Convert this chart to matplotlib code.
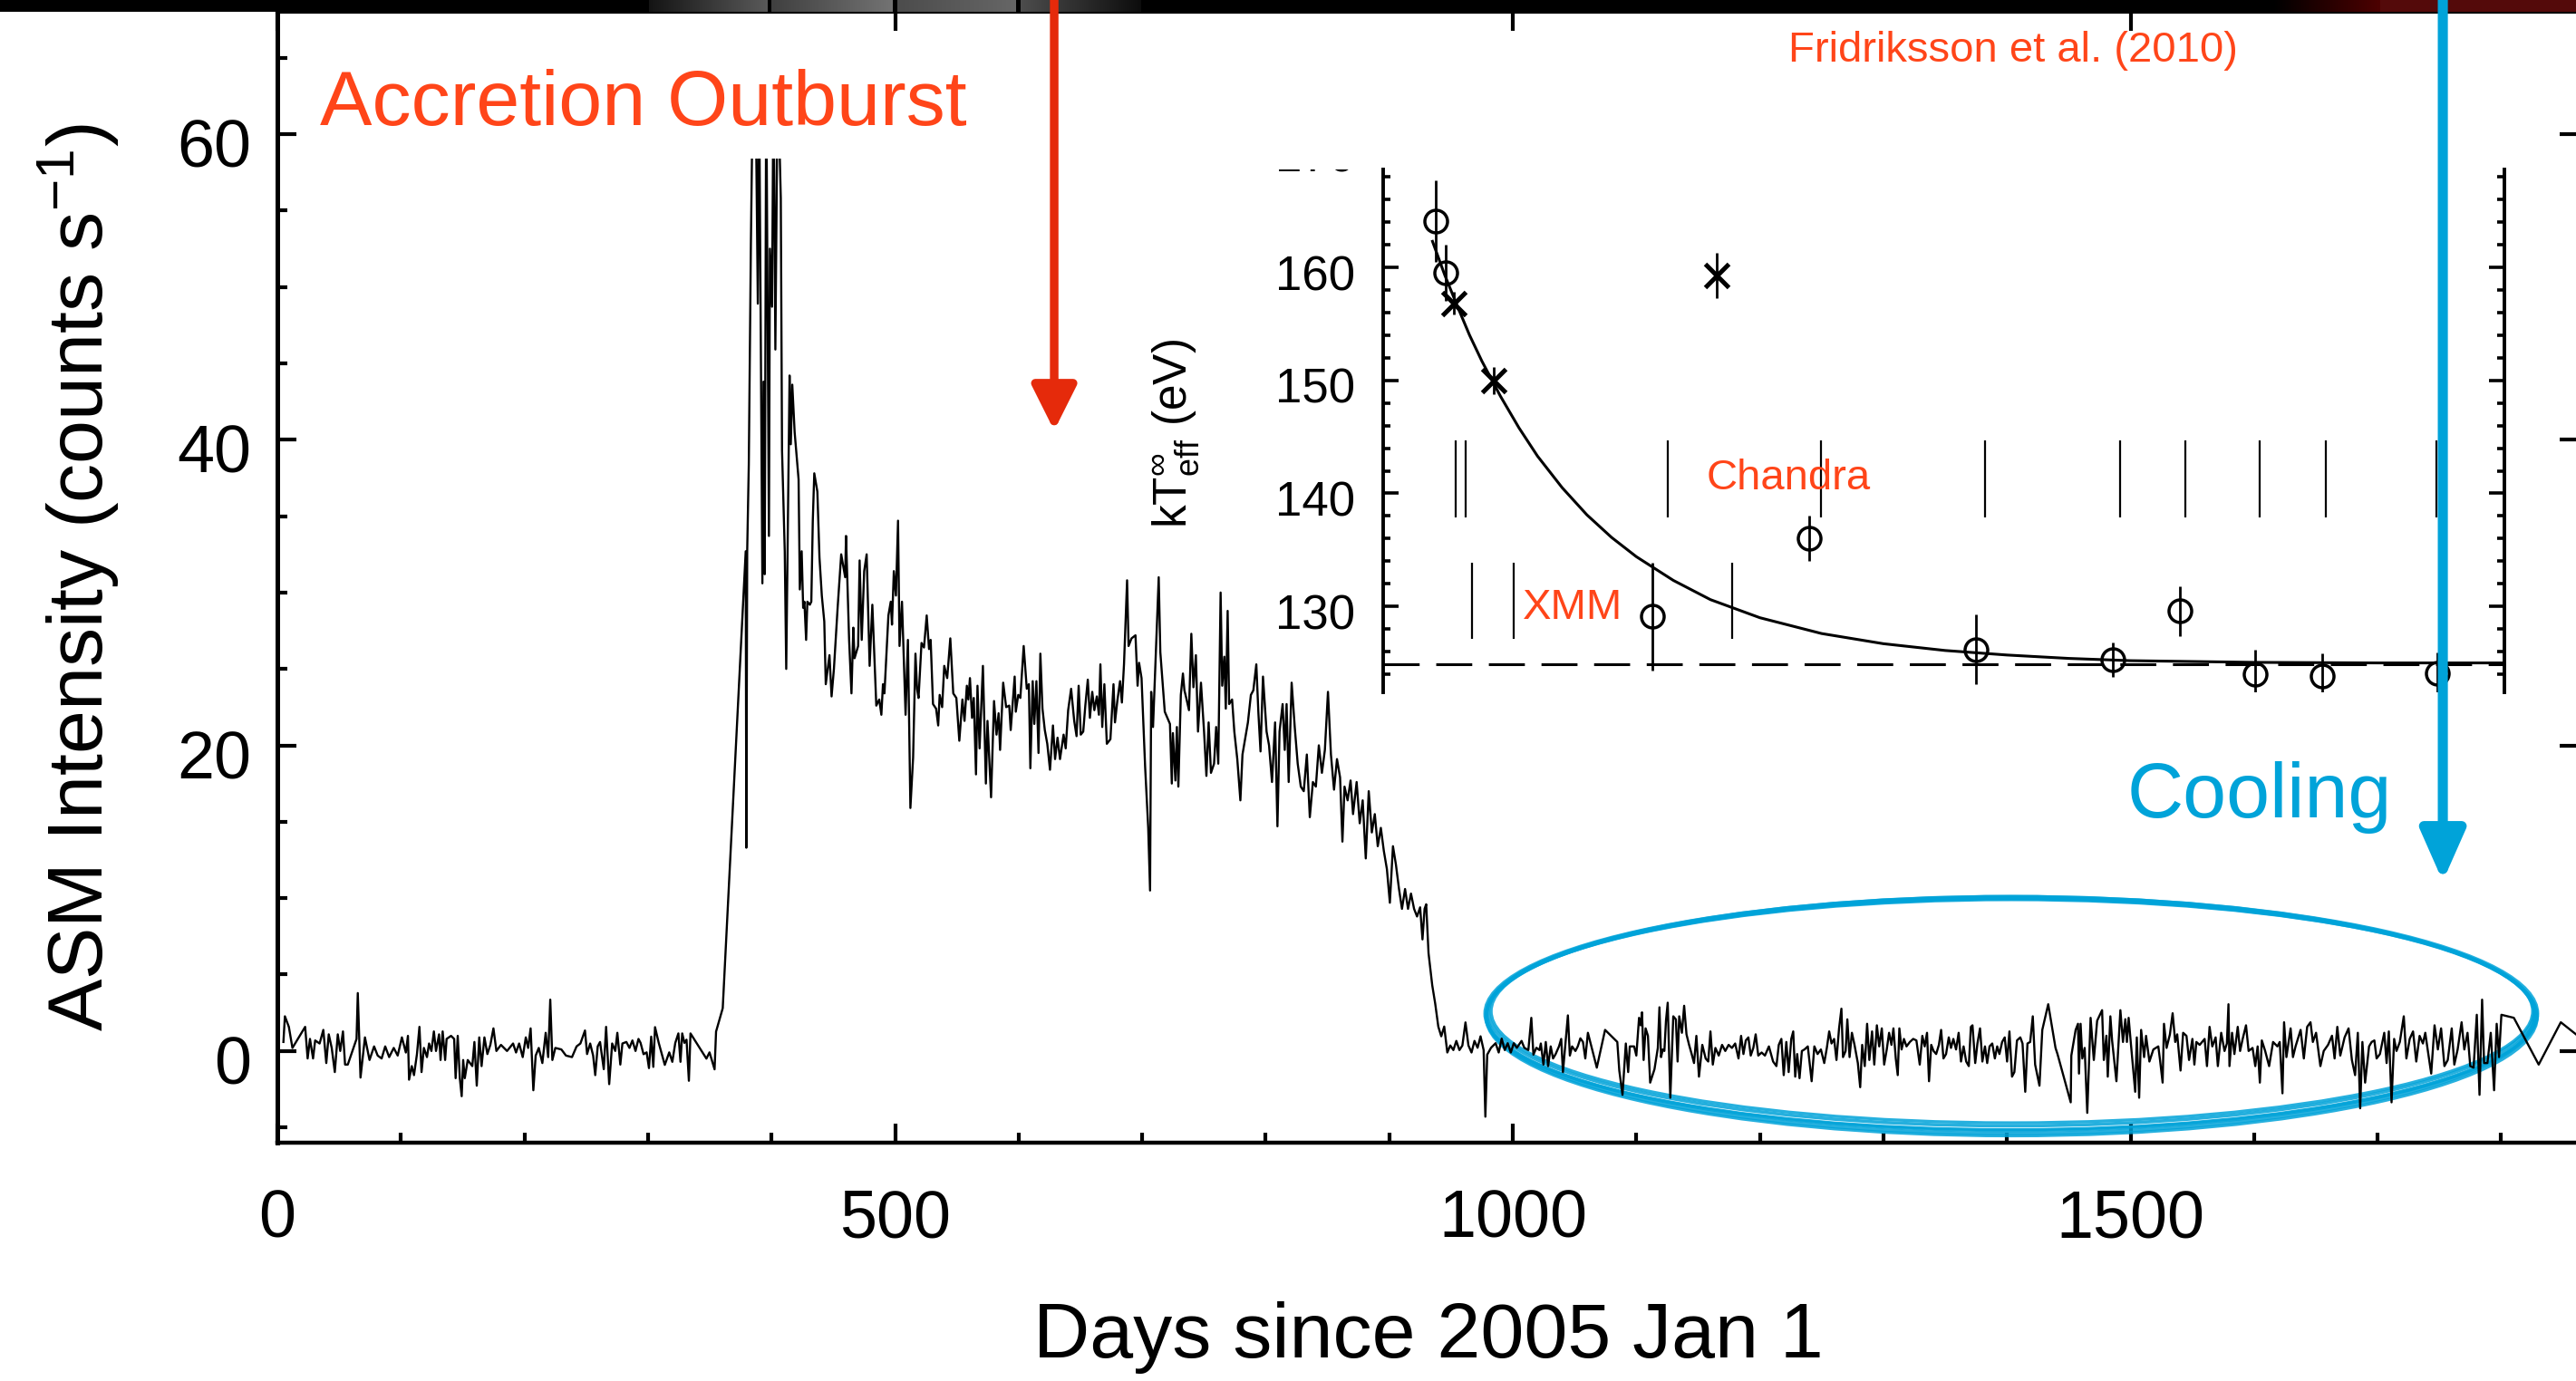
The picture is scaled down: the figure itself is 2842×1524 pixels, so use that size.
#%% Load modules
import numpy as np
import matplotlib
matplotlib.use('Agg')
import matplotlib.pyplot as plt
from matplotlib.patches import Ellipse, FancyArrowPatch
from matplotlib.ticker import MultipleLocator
from matplotlib.transforms import (Bbox, TransformedBbox, ScaledTranslation,
                                   blended_transform_factory)

plt.rcParams['font.family'] = ['Liberation Sans', 'DejaVu Sans']
plt.rcParams['mathtext.fontset'] = 'custom'
plt.rcParams['mathtext.rm'] = 'Liberation Sans'
plt.rcParams['mathtext.it'] = 'Liberation Sans:italic'

#%% RXTE/ASM light curve (days since 2005 Jan 1, counts/s)
# values of 64 mark the off-scale points of the outburst peak (clipped in the plot)
quiet_day = [
    4.9, 6.1, 9.3, 12.2, 22.5, 24.5, 26.4, 28.9, 30.6, 34.2,
    37.2, 39.6, 41.6, 44.0, 46.5, 48.9, 50.9, 53.1, 54.8, 57.0,
    64.1, 65.1, 67.3, 70.9, 74.6, 78.3, 81.2, 84.4, 87.3, 90.5,
    94.2, 97.4, 100.8, 104.0, 105.7, 106.6, 108.8, 110.6, 113.0, 115.0,
    116.7, 118.6, 121.1, 122.8, 124.7, 126.7, 128.4, 130.9, 132.1, 133.8,
    135.8, 137.0, 140.6, 143.1, 144.3, 146.0, 147.7, 149.2, 150.4, 151.7,
    154.1, 157.8, 159.5, 161.4, 163.4, 165.3, 167.6, 170.0, 172.4, 174.9,
    177.3, 181.0, 185.9, 190.8, 193.2, 195.7, 198.6, 201.1, 203.0, 205.0,
    207.2, 209.1, 211.6, 214.5, 217.2, 219.2, 220.9, 222.6, 225.0, 229.9,
    233.6, 238.5, 242.2, 245.3, 249.0, 250.7, 253.2, 255.6, 257.3, 259.3,
    261.2, 264.2, 266.1, 268.6, 271.0, 273.5, 275.2, 277.6, 279.3, 282.5,
    285.0, 287.4, 289.9, 292.3, 294.0, 296.4, 298.9, 300.8, 302.6, 304.3,
    305.7, 308.7, 313.6, 317.2, 319.7, 322.1, 324.6, 326.3, 327.7, 329.5,
    331.2, 333.1, 334.4, 347.3, 349.8, 353.9, 355.1, 360.5]
quiet_rate = [
    0.59, 2.27, 1.58, 0.20, 1.58, -0.49, 0.79, -0.49, 0.69, 0.49,
    1.38, -0.79, 1.09, 0.20, -1.38, 1.09, 0.0, 1.28, -0.89, -0.89,
    0.79, 3.79, -1.74, 0.89, -0.59, 0.30, -0.30, -0.49, 0.30, -0.40,
    0.20, -0.30, 0.89, -0.10, 0.99, -1.88, -0.99, -1.58, -0.20, 1.58,
    -1.38, 0.20, -0.40, 0.49, 0.0, 1.28, 0.0, 1.09, -0.59, 1.28,
    -0.59, 0.79, 0.99, 0.79, -1.78, 0.99, -1.78, -2.96, -0.59, -1.78,
    -0.59, -0.99, 0.59, -2.27, 0.89, -0.99, 0.89, -0.20, 0.40, 1.48,
    0.0, 0.40, 0.0, 0.49, -0.10, 0.49, -0.40, 0.89, 0.20, 1.48,
    -2.57, -0.30, 0.20, -0.79, 1.19, -0.40, 3.36, -0.59, 0.20, 0.10,
    -0.30, -0.40, 0.30, 0.49, 1.34, -0.20, 0.49, -0.30, -1.58, 0.30,
    0.59, -1.19, 1.58, -2.17, 0.49, 0.0, 1.19, -0.89, 0.49, 0.59,
    0.20, 0.69, 0.0, 0.79, 0.53, -0.21, -0.09, -1.12, 0.94, -1.04,
    1.56, 0.53, -0.91, -0.09, -0.71, 0.53, 1.15, -0.71, 1.15, 0.53,
    0.74, -1.95, 1.15, -0.50, -0.09, -1.20, 1.27, 2.80]

burst_day = [
    379.1, 379.6, 380.3, 381.6, 383.3, 385.0, 387.0, 388.9, 389.9, 392.6,
    393.5, 394.5, 395.7, 397.9, 398.7, 400.4, 401.6, 403.1, 405.0, 407.5,
    408.5, 410.7, 411.9, 414.6, 415.6, 416.8, 418.7, 421.9, 422.9, 424.4,
    425.6, 426.6, 428.0, 429.0, 431.0, 432.2, 433.4, 434.6, 437.1, 438.8,
    440.7, 442.7, 443.9, 446.9, 448.6, 450.5, 453.5, 456.4, 459.6, 460.3,
    462.8, 464.7, 466.2, 467.2, 470.1, 471.3, 473.0, 475.0, 477.0, 479.4,
    481.6, 484.8, 487.2, 488.9, 490.2, 491.4, 494.6, 496.5, 497.5, 499.0,
    500.7, 502.4, 503.6, 505.6, 508.5,
    510.4, 512.4, 514.6, 516.5, 517.8, 519.0, 521.4, 523.4, 525.6, 527.5,
    528.8, 530.7, 533.2, 534.9, 536.1, 538.1, 539.8, 542.2, 544.7, 547.1,
    549.6, 552.0, 554.5, 556.2, 558.1, 559.3, 560.6, 562.3, 563.7, 565.5,
    566.7, 568.4, 571.1, 573.5, 574.8, 577.7, 580.1, 582.1, 583.8, 585.0,
    587.5, 589.9, 592.4, 593.6, 596.8, 597.7, 599.7, 601.4, 604.1, 606.6,
    608.3, 609.5, 611.4, 612.7, 614.4, 616.1, 617.6, 619.3, 621.2, 623.2,
    625.4, 627.8, 629.5, 631.5, 633.5, 636.4, 638.1, 640.1, 642.5, 645.0,
    646.9, 648.6, 650.3, 652.3, 654.0, 656.0, 657.7, 659.6, 661.3, 663.3,
    665.0, 666.2, 667.7, 669.4, 671.4, 674.3, 676.8, 678.0, 679.9, 682.1,
    683.6, 685.3, 687.8, 689.0, 691.4, 694.6, 696.3, 697.5, 699.5, 702.4,
    704.9, 706.4, 707.3, 708.8, 713.4, 714.7, 718.3, 722.5, 724.0, 724.9,
    726.9, 728.1]
burst_rate = [
    32.7, 13.3, 32.7, 38.4, 52.9, 64, 64, 48.9, 64, 30.6,
    43.8, 31.2, 64, 33.7, 52.5, 48.7, 64, 45.9, 64, 55.8,
    39.3, 32.7, 25.0, 44.2, 39.7, 43.6, 40.5, 37.4, 30.2, 32.7,
    29.0, 29.4, 26.9, 29.4, 29.2, 29.4, 34.7, 37.8, 36.6, 32.3,
    29.8, 28.1, 24.0, 25.9, 23.2, 25.0, 29.0, 32.5, 31.0, 33.7,
    26.9, 23.4, 27.7, 25.7, 26.5, 32.1, 26.9, 31.4, 32.5, 25.2,
    29.2, 22.6, 23.0, 22.0, 24.0, 23.4, 28.5, 29.4, 27.9, 31.4,
    29.8, 34.7, 26.5, 29.4, 22.0,
    26.9, 15.9, 19.2, 26.0, 23.7, 23.1, 26.7, 26.4, 28.5, 26.3,
    26.9, 22.7, 22.4, 21.3, 23.3, 22.5, 25.2, 24.4, 27.0, 23.4,
    23.1, 20.3, 23.0, 21.6, 23.9, 23.0, 24.4, 21.8, 23.1, 18.1,
    23.9, 19.8, 25.2, 17.5, 21.6, 16.6, 22.9, 20.7, 22.1, 19.7,
    24.1, 22.5, 22.6, 21.0, 24.5, 22.2, 23.3, 23.1, 26.5, 23.7,
    24.0, 18.5, 24.2, 21.4, 24.2, 19.5, 26.0, 22.4, 21.0, 20.1,
    18.4, 21.3, 19.1, 20.5, 19.1, 20.7, 19.8, 22.3, 23.7, 21.6,
    20.6, 23.9, 20.7, 20.9, 22.6, 24.3, 21.8, 23.5, 22.3, 23.2,
    22.0, 25.3, 21.2, 24.0, 20.1, 20.4, 24.0, 21.5, 22.9, 24.2,
    22.8, 25.3, 30.8, 26.5, 27.0, 27.2, 23.9, 25.4, 24.4, 18.6,
    14.6, 10.5, 23.5, 21.2, 31.0, 26.1, 22.2, 21.4, 17.5, 20.8,
    17.7, 21.2]

decay_day = [
    729.3, 731.3, 733.0, 734.2, 735.4, 737.9, 739.8, 741.5, 743.5, 745.2,
    747.6, 750.1, 752.0, 753.8, 755.7, 758.2, 759.9, 761.6, 763.5, 764.8,
    766.5, 767.7, 769.2, 770.4, 772.8, 774.6, 777.0, 779.5, 781.2, 783.1,
    785.6, 788.0, 790.0, 792.4, 794.1, 795.8, 797.8, 800.7, 802.7, 805.1,
    807.6, 809.5, 811.2, 813.7, 815.4, 816.9, 818.6, 821.0, 823.5, 825.9,
    828.4, 830.8, 833.3, 835.7, 838.2, 840.6, 843.0, 845.5, 847.9, 850.4,
    852.8, 855.3, 857.7, 860.2, 862.1, 863.8, 866.3, 868.7, 870.7, 873.6,
    876.1, 878.5, 881.0, 883.4, 885.9, 888.3, 890.7, 893.2, 895.6, 898.1,
    900.5, 903.0, 905.4, 907.9, 910.3, 912.8, 915.2, 917.6, 920.1, 922.5,
    925.0, 926.9, 928.6, 929.9, 931.8, 934.8, 937.2, 939.7, 942.1, 944.5,
    947.0, 949.4, 951.9, 954.3, 956.8, 959.2, 961.7, 964.1, 966.6, 969.0,
    971.5, 973.9, 976.4, 977.8, 979.3, 982.4, 986.1, 988.6, 991.0, 993.5,
    995.9, 998.4, 1000.8, 1003.3, 1007.1, 1009.3, 1012.6, 1015.0, 1016.7, 1019.1,
    1021.6]
decay_rate = [
    17.3, 23.3, 24.7, 23.6, 23.2, 22.3, 27.3, 23.8, 25.9, 20.9,
    24.1, 20.9, 18.0, 21.5, 18.2, 18.8, 21.2, 18.8, 30.0, 23.9,
    25.8, 22.4, 28.8, 22.7, 23.0, 20.9, 19.1, 16.4, 19.4, 20.3,
    21.5, 23.3, 23.6, 25.3, 22.1, 19.6, 24.5, 20.9, 20.0, 17.6,
    21.5, 14.7, 20.9, 22.7, 19.7, 22.7, 17.6, 24.1, 21.2, 18.8,
    17.3, 17.0, 19.4, 15.3, 17.6, 17.3, 20.0, 18.2, 19.7, 23.5,
    19.4, 17.1, 19.1, 17.9, 13.7, 17.3, 16.4, 17.7, 15.5, 17.6,
    14.9, 16.4, 12.6, 17.0, 14.3, 15.5, 13.4, 14.6, 13.1, 11.9,
    9.7, 13.4, 12.2, 10.6, 9.3, 10.6, 9.3, 10.3, 9.3, 8.8,
    9.4, 7.3, 9.3, 9.6, 6.4, 4.3, 3.1, 1.6, 0.96, 1.6,
    -0.1, 0.36, 0.06, 0.66, 0.06, 0.36, 1.87, 0.36, -0.1, 0.66,
    0.21, 0.96, 0.06, -4.3, -0.24, 0.21, 0.51, -0.1, 0.81, 0.06,
    0.51, -0.1, 0.51, 0.21, 0.66, 0.21, 0.06, 2.17, -0.24, 0.21,
    0.06]

cool_day = [
    1022.7, 1024.8, 1026.7, 1028.6, 1030.7, 1032.6, 1034.7, 1037.4, 1039.2, 1040.6,
    1042.7, 1044.6, 1046.2, 1048.0, 1050.7, 1052.6, 1054.7, 1056.8, 1058.7, 1060.8,
    1062.7, 1068.0, 1074.7, 1084.6, 1086.2, 1088.8, 1091.5, 1093.4, 1094.7, 1098.2,
    1100.0, 1102.2, 1103.5, 1104.6, 1105.9, 1107.5, 1109.4, 1111.2, 1114.7, 1117.4,
    1118.7, 1120.0, 1121.4, 1122.7, 1124.0, 1125.4, 1127.5, 1129.9, 1132.0, 1133.4,
    1134.7, 1136.9, 1138.7, 1140.6, 1142.7, 1144.8, 1146.7, 1148.6, 1150.7, 1153.4,
    1156.1, 1158.2, 1160.0, 1161.9, 1164.0, 1166.7, 1169.4, 1172.0, 1174.7, 1177.4,
    1180.0, 1182.7, 1184.8, 1186.7, 1188.6, 1190.7, 1192.6, 1194.7, 1196.6, 1198.7,
    1201.4, 1204.1, 1207.3, 1210.7, 1213.4, 1215.3, 1217.4, 1219.3, 1221.4, 1223.3,
    1225.4, 1227.0, 1228.6, 1230.2, 1232.1, 1234.0, 1236.1, 1238.8, 1241.9, 1244.1,
    1246.7, 1249.4, 1252.1, 1254.2, 1256.1, 1258.0, 1260.1, 1262.0, 1264.1, 1266.0,
    1267.3, 1269.4, 1270.8, 1272.6, 1274.5, 1276.6, 1279.3, 1281.2, 1282.8, 1284.9,
    1286.8, 1288.6, 1290.8, 1292.6, 1294.7, 1296.6, 1298.7, 1300.6, 1302.7, 1304.6,
    1306.5, 1308.1, 1310.0, 1311.6, 1312.9, 1314.7, 1316.6, 1318.7, 1321.4, 1324.1,
    1326.7, 1329.4, 1331.5, 1333.4, 1335.3, 1336.9, 1338.7, 1340.6, 1342.7, 1344.9,
    1346.7, 1348.6, 1350.7, 1352.9, 1354.7, 1356.6, 1358.8, 1360.9, 1362.8, 1364.9,
    1367.0, 1369.1, 1370.8, 1372.1, 1374.3, 1376.1, 1378.2, 1380.1, 1382.2, 1384.0,
    1385.9, 1388.1, 1390.2, 1392.1, 1393.9, 1396.1, 1398.2, 1400.1, 1402.0, 1404.1,
    1406.0, 1408.1, 1410.8, 1412.6, 1414.8, 1416.6, 1418.8, 1420.9, 1422.8, 1426.3,
    1428.6, 1433.4, 1439.3,
    1440.9, 1451.6, 1452.1, 1455.6, 1457.5, 1458.3, 1459.6, 1461.0, 1462.9, 1465.0,
    1467.7, 1470.3, 1473.0, 1477.0, 1478.4, 1480.5, 1481.6, 1483.7, 1485.1, 1488.6,
    1491.8, 1493.9, 1495.8, 1497.1, 1498.5, 1500.3, 1503.8, 1505.1, 1507.0, 1508.6,
    1511.0, 1512.6, 1515.3, 1518.5, 1522.5, 1523.9, 1526.0, 1527.1, 1529.2, 1531.9,
    1534.1, 1536.2, 1537.8, 1540.5, 1542.6, 1545.3, 1547.4, 1550.1, 1551.7, 1553.3,
    1556.0, 1560.0, 1561.9, 1564.0, 1566.2, 1568.9, 1570.7, 1573.4, 1576.1, 1578.0,
    1579.3, 1580.1, 1582.2, 1584.1, 1586.8, 1588.7, 1590.8, 1593.5, 1595.6, 1598.8,
    1601.0, 1602.9, 1604.7, 1606.3, 1609.0, 1612.2, 1615.4, 1618.9, 1620.8, 1623.0,
    1624.3, 1626.2, 1629.6, 1631.5, 1633.6, 1637.7, 1640.3, 1643.0, 1645.7, 1647.6,
    1650.2, 1653.7, 1656.4, 1659.9, 1663.1, 1665.2, 1667.4, 1669.8, 1673.3, 1676.5,
    1679.2, 1681.8, 1684.0, 1685.9, 1687.7, 1689.9, 1693.1, 1695.2, 1697.4, 1699.2,
    1701.9, 1705.4, 1707.3, 1709.1, 1711.3, 1713.4, 1715.3, 1718.0, 1721.2, 1723.3,
    1726.0, 1728.7, 1731.3, 1734.0, 1736.7, 1738.6, 1740.7, 1743.4, 1746.1, 1748.8,
    1751.4, 1754.1, 1756.8, 1760.0, 1762.1, 1764.8, 1768.0, 1770.2, 1772.8, 1775.0,
    1777.7, 1780.3, 1782.5, 1784.6, 1786.2, 1788.9, 1791.6, 1794.3, 1796.4, 1798.3,
    1800.2, 1810.3, 1830.4, 1848.3, 1860.6]
cool_rate = [
    0.49, -0.89, 0.59, -0.99, 0.30, -0.49, -0.20, 0.30, 0.79, -1.38,
    0.59, 2.33, -0.30, 0.30, 0.0, 0.30, 0.83, 0.59, -0.49, 1.19,
    0.59, -1.09, 1.38, 0.59, -1.28, -2.87, 0.49, -1.38, 0.30, 0.30,
    -0.30, 2.17, 1.68, 2.53, -0.59, 1.48, 0.99, -2.07, -1.19, 0.20,
    2.86, -0.40, 0.10, 0.0, 1.98, 3.16, -3.06, 2.27, 2.07, -0.69,
    2.27, 1.19, 2.96, 1.09, 0.40, -0.20, -0.79, 0.99, -1.68, 0.40,
    -0.49, -0.69, 1.28, -0.89, 0.20, -0.30, 0.40, 0.0, 0.40, 0.20,
    0.49, -0.49, 0.99, -0.20, 0.69, 0.89, -0.30, 0.20, 1.09, -0.30,
    -0.10, -0.30, 0.30, -0.69, -0.99, 0.40, 0.79, -1.58, 0.59, -1.38,
    0.79, 1.28, -1.68, -0.20, -1.78, 0.0, 0.10, 0.30, -1.98, 0.30,
    -0.20, 0.10, -0.79, 0.20, 1.28, 0.49, 0.79, -0.59, 1.48, 2.77,
    -0.40, 0.0, 2.07, -0.40, 1.19, 0.40, -0.79, -2.37, 0.40, -0.99,
    1.78, -0.59, 1.28, -0.89, 1.68, 0.30, 1.48, -0.89, 0.10, 1.19,
    0.40, 1.48, -0.49, -1.58, 1.48, 0.10, 0.79, 0.30, 0.59, 0.79,
    0.69, -0.89, 0.99, 0.30, 1.19, -1.98, 0.40, 0.0, -0.20, 0.40,
    1.38, -0.49, -0.20, 0.89, 0.20, 0.79, 0.10, 1.19, -0.69, 0.30,
    -0.69, -0.99, 1.58, 1.68, -0.79, 0.49, 1.48, -0.69, 0.30, -0.79,
    0.30, 0.49, -0.49, 0.30, -0.20, 0.59, 0.89, -0.69, 1.28, -1.68,
    -1.38, 0.69, 0.89, 0.49, -2.67, 0.49, 0.59, 2.27, -0.89, -2.27,
    1.38, 3.06, 0.20,
    -0.20, -3.36, -0.30, 1.38, 1.78, -1.48, 1.78, -0.49, 0.20, -4.05,
    2.17, -0.59, 1.98, 2.67, -0.59, 1.00, -1.68, 2.27, 0.69, -1.98,
    2.67, 0.59, 2.08, 0.59, 2.17, 0.49, -2.67, 0.89, -3.06, 1.38,
    -0.40, 0.99, -0.69, 0.10, 0.30, -0.59, -2.07, 1.78, 0.20, 1.09,
    2.47, 0.59, 1.09, -1.28, 1.19, 0.99, -0.59, 0.79, -0.89, 0.59,
    0.40, 0.79, -0.99, 1.58, 0.30, 0.89, -0.99, 1.19, 0.0, 0.49,
    3.06, -0.99, 1.19, -0.20, 1.58, 0.0, 0.79, 1.68, 0.0, 0.20,
    -0.99, 0.30, -2.07, 0.69, 0.0, -0.99, 0.59, 0.30, 0.59, -2.77,
    1.88, -0.40, 1.48, -0.40, 0.30, 1.38, -0.49, 1.58, 1.88, 0.59,
    1.19, -0.99, 0.0, 0.40, 1.00, -0.49, 1.58, -0.30, 0.89, 1.48,
    -0.59, -1.58, 1.19, -3.75, 0.59, -2.07, 0.30, 0.59, 0.69, -0.49,
    -0.20, 1.19, -0.79, 1.28, -3.36, 0.79, 0.0, 0.59, 2.27, -0.49,
    0.79, 1.28, -0.69, 0.99, 0.49, 1.19, 0.0, -1.48, 1.68, 0.10,
    1.48, -0.99, -0.59, 1.48, -0.89, 0.10, 1.88, 0.10, 1.19, -0.99,
    -1.09, 2.37, -2.87, 3.36, -0.79, -0.79, 1.19, -2.57, 1.78, -0.40,
    2.37, 2.17, -0.89, 1.88, 1.09]

#%% Inset: neutron-star temperature (Fridriksson et al. 2010)
circ_day = [937.6, 945.7, 1113, 1240, 1375, 1486, 1540, 1601, 1655, 1748]
circ_kT = [164.1, 159.5, 129.1, 136.0, 126.2, 125.3, 129.6, 124.0, 123.85, 124.1]
circ_err = [3.6, 2.5, 4.8, 2.0, 3.1, 1.5, 2.2, 2.2, 2.0, 1.8]
star_day = [952.0, 984.9, 1165]
star_kT = [156.8, 150.0, 159.3]
star_err = [1.0, 1.2, 2.0]
fit_day = [935, 945, 955, 965, 975, 990, 1005, 1020, 1040, 1060, 1080, 1100,
           1130, 1160, 1200, 1250, 1300, 1350, 1400, 1450, 1500, 1600, 1700, 1803]
fit_kT = [162.3, 159.3, 156.6, 154.0, 151.7, 148.6, 145.8, 143.3, 140.5, 138.1,
          136.1, 134.4, 132.3, 130.6, 129.0, 127.6, 126.7, 126.1, 125.7, 125.4,
          125.2, 125.05, 125.0, 125.0]
kT_base = 124.9
chandra_day = [953.8, 961.9, 1125.2, 1249.5, 1382.5, 1491.8, 1544.5, 1604.5, 1657.8, 1747.6]
xmm_day = [967.3, 1001.1, 1177.2]

#%% Colours
RED_TXT = '#FF4519'
RED_ARROW = '#E52A0B'
BLUE = '#00A3D9'

#%% Figure
W, H, DPI = 2842, 1524, 200
fig = plt.figure(figsize=(W / DPI, H / DPI), dpi=DPI)


def box(x0, y0, x1, y1):
    # pixel box measured from the top-left corner -> figure fraction rect
    return [x0 / W, 1 - y1 / H, (x1 - x0) / W, (y1 - y0) / H]


def shift_labels(axis, dy_pt):
    # nudge tick labels down a little, as in the original layout
    off = ScaledTranslation(0, -dy_pt / 72, fig.dpi_scale_trans)
    for t in axis.get_major_ticks():
        t.label1.set_transform(t.label1.get_transform() + off)


ax = fig.add_axes(box(306, 13, 2845, 1261))
day = quiet_day + burst_day + decay_day + cool_day
rate = quiet_rate + burst_rate + decay_rate + cool_rate
xmax = 1862.8
line, = ax.plot(day, rate, color='k', lw=0.85, zorder=3)
line.set_clip_box(TransformedBbox(Bbox([[0, -6], [xmax, 58.4]]), ax.transData))

# hand-drawn looking ellipse around the quiescent (cooling) part
for cx, cy, w, h, lw in [(1403.5, 2.55, 846, 14.9, 1.3), (1403.5, 2.45, 852, 15.3, 1.3),
                         (1403.0, 2.35, 849, 15.5, 1.4), (1404.0, 2.60, 843, 14.6, 1.2),
                         (1403.2, 2.40, 848, 15.1, 1.2), (1403.8, 2.25, 851, 15.6, 1.2)]:
    ax.add_patch(Ellipse((cx, cy), w, h, fill=False, ec=BLUE, lw=lw,
                         alpha=0.85, zorder=2))

ax.set_xlim(0, xmax)
ax.set_ylim(-6, 68)
ax.xaxis.set_major_locator(MultipleLocator(500))
ax.xaxis.set_minor_locator(MultipleLocator(100))
ax.yaxis.set_major_locator(MultipleLocator(20))
ax.yaxis.set_minor_locator(MultipleLocator(5))
ax.tick_params(which='major', direction='in', length=7.5, width=1.5,
               labelsize=26.5, top=True, right=True)
ax.tick_params(which='minor', direction='in', length=3.8, width=1.5,
               top=False, right=False)
ax.tick_params(axis='x', which='major', pad=18)
ax.tick_params(axis='y', which='major', pad=10.5)
shift_labels(ax.yaxis, 3.5)
ax.spines['left'].set_linewidth(1.8)
ax.spines['bottom'].set_linewidth(1.6)
ax.spines['top'].set_linewidth(1.5)
ax.spines['right'].set_visible(False)
ax.set_xlabel('Days since 2005 Jan 1', fontsize=31, labelpad=20)
ax.set_ylabel('ASM Intensity (counts s$^{-1}$)', fontsize=31, labelpad=22)

#%% Inset axes share the day scale of the main axes
ax_in = fig.add_axes(box(1526, 187, 2763, 764))
ax_in.set_facecolor('none')
ax_in.set_xlim((1526 - 306) / 1.363, (2763 - 306) / 1.363)
ax_in.set_ylim(122.4, 168.66)
ax_in.errorbar(circ_day, circ_kT, yerr=circ_err, fmt='o', ms=9, mfc='none',
               mec='k', mew=1.25, ecolor='k', elinewidth=1.0, capsize=0)
ax_in.errorbar(star_day, star_kT, yerr=star_err, fmt='x', ms=9.5, mec='k',
               mew=1.8, ecolor='k', elinewidth=1.0, capsize=0)
ax_in.plot(fit_day, fit_kT, color='k', lw=1.1)
ax_in.axhline(kT_base, color='k', lw=1.1, dashes=(13, 6))
ax_in.vlines(chandra_day, 137.9, 144.7, color='k', lw=0.8)
ax_in.vlines(xmm_day, 127.1, 133.9, color='k', lw=0.8)
ax_in.text(1157, 140.35, 'Chandra', color=RED_TXT, fontsize=17, va='baseline')
ax_in.text(1008.1, 128.9, 'XMM', color=RED_TXT, fontsize=17, va='baseline')

ax_in.set_xticks([])
ax_in.spines['top'].set_visible(False)
ax_in.spines['bottom'].set_visible(False)
ax_in.spines['left'].set_linewidth(1.4)
ax_in.spines['right'].set_linewidth(1.4)
ax_in.yaxis.set_major_locator(MultipleLocator(10))
ax_in.yaxis.set_minor_locator(MultipleLocator(2))
ax_in.tick_params(axis='y', which='major', direction='in', length=6, width=1.3,
                  labelsize=19, pad=11, right=True)
ax_in.tick_params(axis='y', which='minor', direction='in', length=3, width=1.3,
                  right=True)
shift_labels(ax_in.yaxis, 2)
# the "170" label is cut by the top of the inset
lab = ax_in.text(-31 / 1237, 170, '170', fontsize=19, ha='right',
                 va='center_baseline',
                 transform=blended_transform_factory(ax_in.transAxes, ax_in.transData))
lab.set_clip_box(TransformedBbox(Bbox([[-0.3, 0], [1, 1]]), ax_in.transAxes))
lab.set_clip_on(True)
fig.text(1297 / W, 1 - 478 / H, r'kT$_{\rm eff}^{\infty}$ (eV)', rotation=90,
         ha='center', va='center', fontsize=18.5)

#%% Strip of the image above (cropped)
band = np.zeros((1, W, 3))
for x0, x1, c0, c1 in [(716, 847, 0.08, 0.35), (851, 985, 0.25, 0.45),
                       (990, 1121, 0.30, 0.40), (1126, 1259, 0.30, 0.05)]:
    band[0, x0:x1, :] = np.linspace(c0, c1, x1 - x0)[:, None]
band[0, 2508:2626, 0] = np.linspace(0.0, 0.3, 2626 - 2508)
band[0, 2626:, :] = [0.33, 0.04, 0.04]
band_ax = fig.add_axes(box(0, 0, W, 13))
band_ax.imshow(band, aspect='auto', interpolation='nearest')
band_ax.set_axis_off()
band_ax.set_zorder(5)

#%% Annotations
for x, y_tip, col, lw, hl, hw in [(628.8, 40.6, RED_ARROW, 3.4, 15, 7.5),
                                  (1752.8, 11.1, BLUE, 4.0, 17, 7.5)]:
    arr = FancyArrowPatch((x, 70), (x, y_tip), transform=ax.transData,
                          arrowstyle='-|>,head_length=%g,head_width=%g' % (hl, hw),
                          mutation_scale=1, lw=lw, color=col,
                          shrinkA=0, shrinkB=0, zorder=10)
    fig.add_artist(arr)

fig.text(353 / W, 1 - 138 / H, 'Accretion Outburst', fontsize=31,
         color=RED_TXT, va='baseline')
fig.text(1973 / W, 1 - 68 / H, 'Fridriksson et al. (2010)', fontsize=17,
         color=RED_TXT, va='baseline')
fig.text(2347 / W, 1 - 902 / H, 'Cooling', fontsize=31, color=BLUE,
         va='baseline')

fig.savefig('out.png', dpi=DPI)
